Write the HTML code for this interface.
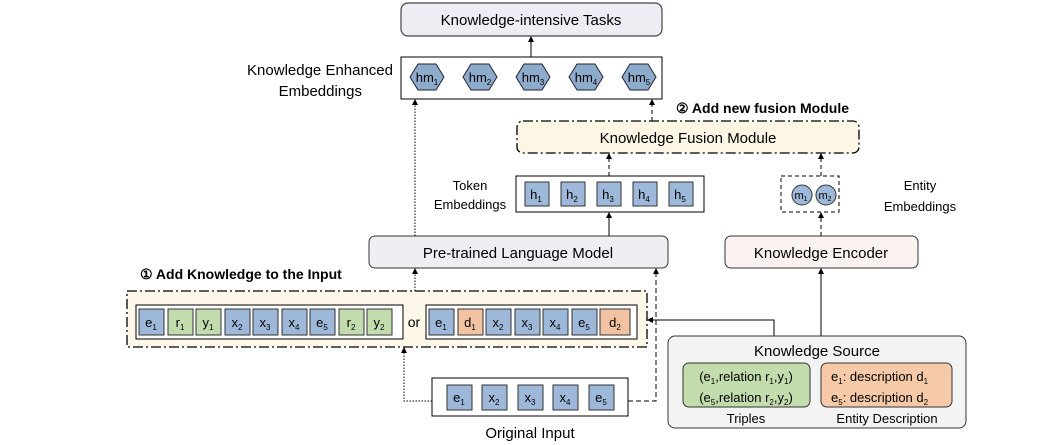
<!DOCTYPE html>
<html><head><meta charset="utf-8"><style>
body{margin:0;background:#fff}
svg{display:block;font-family:"Liberation Sans",sans-serif}
</style></head><body>
<svg width="1050" height="445" viewBox="0 0 1050 445" xmlns="http://www.w3.org/2000/svg">
<defs>
<marker id="a" markerWidth="6" markerHeight="6" refX="5" refY="3" orient="auto"><path d="M0,0 L6,3 L0,6 z" fill="#000"/></marker>
</defs>
<g font-size="14" fill="#000">
<!-- Tasks -->
<rect x="401" y="3" width="261" height="33" rx="7" fill="#eceef4" stroke="#444" stroke-width="1.2"/>
<text x="531" y="25" text-anchor="middle" font-size="15">Knowledge-intensive Tasks</text>
<line x1="531" y1="57" x2="531" y2="37" stroke="#000" marker-end="url(#a)"/>
<!-- KE embeddings -->
<rect x="401" y="57" width="261" height="42" fill="#fff" stroke="#000"/>
<text x="393" y="75" text-anchor="end" font-size="15">Knowledge Enhanced</text>
<text x="362" y="96" text-anchor="end" font-size="15">Embeddings</text>
<g fill="#8daccb" stroke="#223">
<polygon points="410,77 418,64 436,64 444,77 436,90 418,90"/>
<polygon points="463,77 471,64 489,64 497,77 489,90 471,90"/>
<polygon points="516,77 524,64 542,64 550,77 542,90 524,90"/>
<polygon points="569,77 577,64 595,64 603,77 595,90 577,90"/>
<polygon points="622,77 630,64 648,64 656,77 648,90 630,90"/>
</g>
<g font-size="13" text-anchor="middle">
<text x="427" y="82">hm<tspan font-size="8" dy="3">1</tspan></text>
<text x="480" y="82">hm<tspan font-size="8" dy="3">2</tspan></text>
<text x="533" y="82">hm<tspan font-size="8" dy="3">3</tspan></text>
<text x="586" y="82">hm<tspan font-size="8" dy="3">4</tspan></text>
<text x="639" y="82">hm<tspan font-size="8" dy="3">5</tspan></text>
</g>
<!-- fusion -->
<text x="676" y="113" font-size="14" font-weight="bold">② Add new fusion Module</text>
<rect x="517" y="121" width="342" height="32" rx="6" fill="#fdf6e4" stroke="#000" stroke-width="1.3" stroke-dasharray="10,3,2,3"/>
<text x="688" y="143" text-anchor="middle" font-size="15">Knowledge Fusion Module</text>
<line x1="652" y1="121" x2="652" y2="100" stroke="#000" stroke-dasharray="4,3" marker-end="url(#a)"/>
<!-- token embeddings -->
<text x="470" y="190" text-anchor="middle" font-size="13">Token</text>
<text x="470" y="209" text-anchor="middle" font-size="13">Embeddings</text>
<rect x="516" y="176" width="188" height="36" fill="#fff" stroke="#000"/>
<g fill="#9db8d8" stroke="#333">
<rect x="525" y="182" width="24" height="24"/><rect x="561" y="182" width="24" height="24"/><rect x="597" y="182" width="24" height="24"/><rect x="633" y="182" width="24" height="24"/><rect x="669" y="182" width="24" height="24"/>
</g>
<g font-size="13" text-anchor="middle">
<text x="536" y="199">h<tspan font-size="8" dy="3">1</tspan></text>
<text x="572" y="199">h<tspan font-size="8" dy="3">2</tspan></text>
<text x="608" y="199">h<tspan font-size="8" dy="3">3</tspan></text>
<text x="644" y="199">h<tspan font-size="8" dy="3">4</tspan></text>
<text x="680" y="199">h<tspan font-size="8" dy="3">5</tspan></text>
</g>
<line x1="609" y1="176" x2="609" y2="154" stroke="#000" stroke-dasharray="4,3" marker-end="url(#a)"/>
<!-- entity embeddings -->
<rect x="781" y="176" width="58" height="36" fill="#fff" stroke="#000" stroke-dasharray="4,3"/>
<circle cx="802" cy="195" r="10" fill="#9db8d8" stroke="#333"/>
<circle cx="826" cy="195" r="10" fill="#9db8d8" stroke="#333"/>
<text x="801" y="199" text-anchor="middle" font-size="11">m<tspan font-size="7" dy="2">1</tspan></text>
<text x="825" y="199" text-anchor="middle" font-size="11">m<tspan font-size="7" dy="2">2</tspan></text>
<text x="920" y="190" text-anchor="middle" font-size="13">Entity</text>
<text x="920" y="211" text-anchor="middle" font-size="13">Embeddings</text>
<line x1="821" y1="176" x2="821" y2="154" stroke="#000" stroke-dasharray="4,3" marker-end="url(#a)"/>
<!-- PLM and Encoder -->
<rect x="369" y="236" width="299" height="32" rx="6" fill="#eeeff2" stroke="#333"/>
<text x="518" y="258" text-anchor="middle" font-size="15">Pre-trained Language Model</text>
<line x1="609" y1="236" x2="609" y2="213" stroke="#000" marker-end="url(#a)"/>
<rect x="725" y="236" width="193" height="32" rx="6" fill="#fbf3f0" stroke="#333"/>
<text x="821" y="258" text-anchor="middle" font-size="15">Knowledge Encoder</text>
<line x1="821" y1="236" x2="821" y2="213" stroke="#000" stroke-dasharray="4,3" marker-end="url(#a)"/>
<line x1="415" y1="236" x2="415" y2="100" stroke="#000" stroke-dasharray="1.5,1.5" marker-end="url(#a)"/>
<!-- add knowledge -->
<text x="140" y="279" font-size="14" font-weight="bold">① Add Knowledge to the Input</text>
<rect x="127" y="291" width="520" height="56" fill="#fdf8e8" stroke="#000" stroke-width="1.3" stroke-dasharray="10,3,2,3"/>
<line x1="415" y1="291" x2="415" y2="269" stroke="#000" stroke-dasharray="1.5,1.5" marker-end="url(#a)"/>
<rect x="136" y="305" width="267" height="34" fill="#fff" stroke="#000"/>
<g stroke="#333">
<rect x="139" y="309" width="25" height="26" fill="#9db8d8"/>
<rect x="168" y="309" width="25" height="26" fill="#c3dcae"/>
<rect x="196" y="309" width="25" height="26" fill="#c3dcae"/>
<rect x="225" y="309" width="25" height="26" fill="#9db8d8"/>
<rect x="253" y="309" width="25" height="26" fill="#9db8d8"/>
<rect x="282" y="309" width="25" height="26" fill="#9db8d8"/>
<rect x="310" y="309" width="25" height="26" fill="#9db8d8"/>
<rect x="339" y="309" width="25" height="26" fill="#c3dcae"/>
<rect x="367" y="309" width="25" height="26" fill="#c3dcae"/>
</g>
<g font-size="13" text-anchor="middle">
<text x="151" y="327">e<tspan font-size="8" dy="3">1</tspan></text>
<text x="180" y="327">r<tspan font-size="8" dy="3">1</tspan></text>
<text x="208" y="327">y<tspan font-size="8" dy="3">1</tspan></text>
<text x="237" y="327">x<tspan font-size="8" dy="3">2</tspan></text>
<text x="265" y="327">x<tspan font-size="8" dy="3">3</tspan></text>
<text x="294" y="327">x<tspan font-size="8" dy="3">4</tspan></text>
<text x="322" y="327">e<tspan font-size="8" dy="3">5</tspan></text>
<text x="351" y="327">r<tspan font-size="8" dy="3">2</tspan></text>
<text x="379" y="327">y<tspan font-size="8" dy="3">2</tspan></text>
</g>
<text x="414" y="327" text-anchor="middle" font-size="14">or</text>
<rect x="426" y="305" width="211" height="34" fill="#fff" stroke="#000"/>
<g stroke="#333">
<rect x="429" y="309" width="25" height="26" fill="#9db8d8"/>
<rect x="458" y="309" width="25" height="26" fill="#f2c3a3"/>
<rect x="486" y="309" width="25" height="26" fill="#9db8d8"/>
<rect x="515" y="309" width="25" height="26" fill="#9db8d8"/>
<rect x="543" y="309" width="25" height="26" fill="#9db8d8"/>
<rect x="572" y="309" width="25" height="26" fill="#9db8d8"/>
<rect x="600" y="309" width="30" height="26" fill="#f2c3a3"/>
</g>
<g font-size="13" text-anchor="middle">
<text x="441" y="327">e<tspan font-size="8" dy="3">1</tspan></text>
<text x="470" y="327">d<tspan font-size="8" dy="3">1</tspan></text>
<text x="498" y="327">x<tspan font-size="8" dy="3">2</tspan></text>
<text x="527" y="327">x<tspan font-size="8" dy="3">3</tspan></text>
<text x="555" y="327">x<tspan font-size="8" dy="3">4</tspan></text>
<text x="584" y="327">e<tspan font-size="8" dy="3">5</tspan></text>
<text x="615" y="327">d<tspan font-size="8" dy="3">2</tspan></text>
</g>
<!-- original input -->
<rect x="432" y="378" width="196" height="38" fill="#fff" stroke="#000"/>
<g fill="#9db8d8" stroke="#333">
<rect x="447" y="385" width="25" height="25"/><rect x="482" y="385" width="25" height="25"/><rect x="518" y="385" width="25" height="25"/><rect x="553" y="385" width="25" height="25"/><rect x="589" y="385" width="25" height="25"/>
</g>
<g font-size="13" text-anchor="middle">
<text x="459" y="402">e<tspan font-size="8" dy="3">1</tspan></text>
<text x="494" y="402">x<tspan font-size="8" dy="3">2</tspan></text>
<text x="530" y="402">x<tspan font-size="8" dy="3">3</tspan></text>
<text x="565" y="402">x<tspan font-size="8" dy="3">4</tspan></text>
<text x="601" y="402">e<tspan font-size="8" dy="3">5</tspan></text>
</g>
<text x="530" y="438" text-anchor="middle" font-size="15">Original Input</text>
<polyline points="432,401 404,401 404,348" fill="none" stroke="#000" stroke-dasharray="1.5,1.5" marker-end="url(#a)"/>
<polyline points="628,401 656,401 656,269" fill="none" stroke="#000" stroke-dasharray="5,3" marker-end="url(#a)"/>
<!-- knowledge source -->
<polyline points="774,336 774,320 648,320" fill="none" stroke="#000" marker-end="url(#a)"/>
<line x1="821" y1="336" x2="821" y2="269" stroke="#000" marker-end="url(#a)"/>
<rect x="668" y="336" width="298" height="92" rx="7" fill="#f3f3f4" stroke="#333"/>
<text x="817" y="356" text-anchor="middle" font-size="15">Knowledge Source</text>
<rect x="683" y="363" width="127" height="44" rx="6" fill="#c3dcae" stroke="#333"/>
<rect x="821" y="363" width="131" height="44" rx="6" fill="#f6c9a8" stroke="#333"/>
<text x="746" y="381" text-anchor="middle" font-size="13">(e<tspan font-size="8" dy="3">1</tspan><tspan dy="-3">,relation r</tspan><tspan font-size="8" dy="3">1</tspan><tspan dy="-3">,y</tspan><tspan font-size="8" dy="3">1</tspan><tspan dy="-3">)</tspan></text>
<text x="746" y="402" text-anchor="middle" font-size="13">(e<tspan font-size="8" dy="3">5</tspan><tspan dy="-3">,relation r</tspan><tspan font-size="8" dy="3">2</tspan><tspan dy="-3">,y</tspan><tspan font-size="8" dy="3">2</tspan><tspan dy="-3">)</tspan></text>
<text x="831" y="381" font-size="13">e<tspan font-size="8" dy="3">1</tspan><tspan dy="-3">:  description d</tspan><tspan font-size="8" dy="3">1</tspan></text>
<text x="831" y="402" font-size="13">e<tspan font-size="8" dy="3">5</tspan><tspan dy="-3">:  description d</tspan><tspan font-size="8" dy="3">2</tspan></text>
<text x="746" y="423" text-anchor="middle" font-size="13">Triples</text>
<text x="887" y="423" text-anchor="middle" font-size="13">Entity Description</text>
</g>
</svg>
</body></html>
